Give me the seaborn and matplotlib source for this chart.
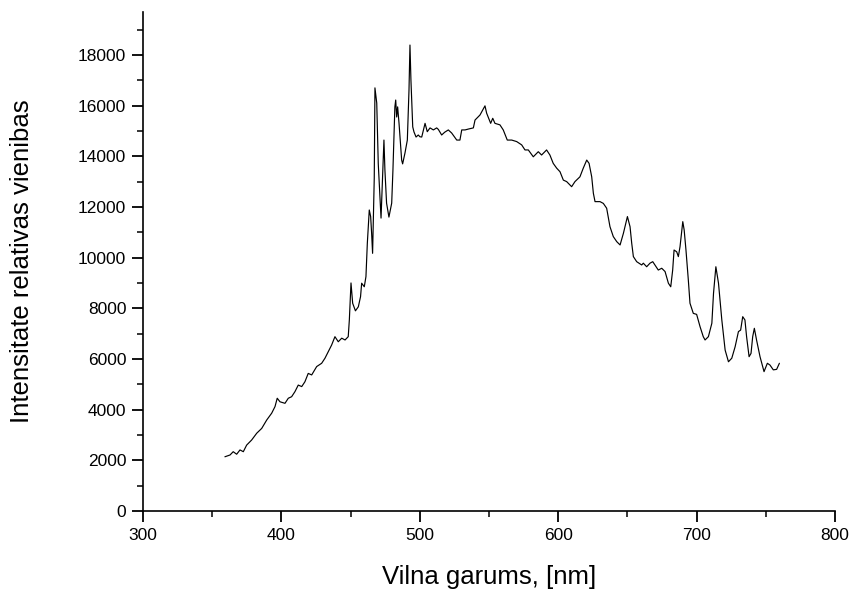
import numpy as np
import pandas as pd
import matplotlib
matplotlib.use("Agg")
import matplotlib.pyplot as plt
from matplotlib.ticker import MultipleLocator
import seaborn as sns

# Emission spectrum: wavelength (nm) and relative intensity
wavelength = [
    359.2, 362.9, 365.2, 367.7, 370.1, 372.5, 374.9, 378.5, 382.2, 385.8,
    389.4, 393.0, 395.4, 397.0, 399.0, 402.6, 405.0, 407.4, 409.8, 412.2,
    414.7, 417.0, 419.4, 421.9, 425.5, 429.1, 431.5, 433.9, 436.3, 438.7,
    441.1, 443.6, 446.0, 448.3, 449.1, 450.3, 451.5, 453.5, 455.6, 457.2,
    458.0, 459.9, 461.1, 462.1, 463.5, 464.5, 465.2, 465.9, 467.1, 467.6,
    468.9, 470.0, 472.0, 474.1, 474.8, 476.0, 477.7, 479.7, 480.6, 482.0,
    482.6, 483.3, 484.0, 485.0, 485.7, 486.9, 487.6, 489.3, 491.0, 492.2,
    492.9, 493.6, 494.9, 495.8, 497.3, 498.9, 500.1, 501.4, 503.8, 505.4,
    507.4, 509.8, 512.2, 513.4, 515.8, 518.0, 520.6, 523.0, 526.7, 529.0,
    530.3, 532.7, 535.5, 538.7, 539.9, 543.5, 547.1, 548.3, 551.2, 552.7,
    554.3, 557.9, 560.3, 563.2, 566.4, 570.0, 573.6, 576.0, 578.4, 582.0,
    585.6, 588.0, 591.6, 594.0, 596.4, 598.9, 601.3, 603.7, 606.1, 609.7,
    612.1, 615.7, 618.1, 620.6, 622.3, 624.2, 625.4, 626.6, 630.2, 632.6,
    635.0, 637.4, 639.8, 642.3, 644.7, 647.1, 650.0, 651.9, 653.1, 654.3,
    656.7, 660.3, 661.5, 663.9, 666.3, 668.3, 669.9, 672.3, 674.8, 677.2,
    679.6, 681.3, 682.7, 683.7, 685.6, 686.8, 688.0, 690.0, 691.0, 692.3,
    694.0, 695.2, 697.6, 700.0, 702.5, 704.8, 706.1, 708.5, 711.0, 712.2,
    713.9, 715.8, 718.2, 720.6, 723.0, 725.4, 727.8, 730.2, 731.8, 733.3,
    734.9, 736.1, 737.9, 739.3, 740.5, 741.7, 743.3, 745.8, 748.7, 751.1,
    753.0, 755.4, 757.8, 759.8,
]
intensity = [
    2140, 2210, 2340, 2240, 2410, 2340, 2600, 2800, 3070, 3260,
    3590, 3860, 4120, 4450, 4310, 4250, 4450, 4510, 4710, 4970,
    4910, 5100, 5430, 5370, 5700, 5830, 6030, 6290, 6550, 6880,
    6680, 6820, 6750, 6880, 7540, 9000, 8200, 7900, 8060, 8460,
    8990, 8850, 9250, 10570, 11880, 11620, 10960, 10170, 13140, 16700,
    16100, 13700, 11560, 14640, 13460, 12150, 11600, 12150, 13460, 15950,
    16220, 15550, 15950, 15300, 14760, 13850, 13700, 14130, 14640, 16620,
    18390, 17010, 15160, 14960, 14760, 14840, 14770, 14760, 15300, 14970,
    15120, 15040, 15120, 15060, 14840, 14950, 15040, 14920, 14640, 14640,
    15040, 15040, 15080, 15120, 15430, 15630, 15990, 15700, 15300, 15500,
    15300, 15240, 15040, 14640, 14640, 14580, 14450, 14250, 14250, 13980,
    14180, 14050, 14250, 14050, 13720, 13530, 13390, 13060, 13000, 12800,
    13000, 13190, 13530, 13850, 13720, 13190, 12540, 12210, 12210, 12140,
    11950, 11220, 10830, 10630, 10500, 10960, 11620, 11220, 10570, 10040,
    9840, 9710, 9780, 9640, 9780, 9840, 9710, 9510, 9580, 9450,
    8990, 8850, 9510, 10300, 10230, 10040, 10430, 11420, 11090, 10300,
    9120, 8200, 7800, 7760, 7270, 6880, 6750, 6880, 7410, 8590,
    9640, 8990, 7540, 6350, 5890, 6030, 6480, 7080, 7140, 7670,
    7540, 6880, 6090, 6220, 6880, 7210, 6750, 6090, 5500, 5830,
    5760, 5570, 5590, 5830,
]

x_label = "Vilna garums, [nm]"
y_label = "Intensitate relativas vienibas"

df = pd.DataFrame({"wavelength": wavelength, "intensity": intensity})

sns.set_style("ticks")
plt.rcParams["font.family"] = ["Liberation Sans", "DejaVu Sans"]

fig = plt.figure(figsize=(8.54, 5.93), dpi=100)
ax = fig.add_axes([0.1674, 0.1383, 0.8104, 0.8417])

sns.lineplot(data=df, x="wavelength", y="intensity", ax=ax,
             sort=False, estimator=None, color="black", linewidth=0.85)

ax.set_xlim(300, 800)
ax.set_ylim(0, 19700)
ax.xaxis.set_major_locator(MultipleLocator(100))
ax.xaxis.set_minor_locator(MultipleLocator(50))
ax.yaxis.set_major_locator(MultipleLocator(2000))
ax.yaxis.set_minor_locator(MultipleLocator(1000))

ax.tick_params(which="major", direction="out", length=8, width=1.3,
               labelsize=12.5, colors="black", pad=4)
ax.tick_params(which="minor", direction="out", length=4, width=1.1,
               colors="black")

for side in ("left", "bottom"):
    ax.spines[side].set_linewidth(1.2)
    ax.spines[side].set_color("black")
sns.despine(ax=ax)

ax.set_xlabel(x_label, fontsize=18.5, color="black")
ax.set_ylabel(y_label, fontsize=18.5, color="black")
ax.xaxis.set_label_coords(0.5, -0.108)
ax.yaxis.set_label_coords(-0.158, 0.5)

fig.savefig("out.png", dpi=100, facecolor="white")
